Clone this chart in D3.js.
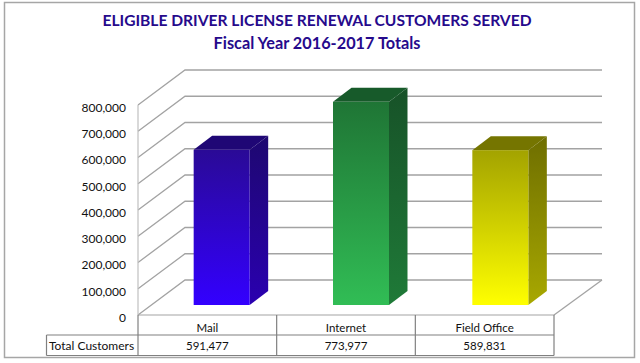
<!DOCTYPE html>
<html>
<head>
<meta charset="utf-8">
<script src="https://cdn.jsdelivr.net/npm/d3@7"></script>
<style>
  html, body { margin: 0; padding: 0; background: #fff; }
  svg { display: block; }
  text { font-family: Lato, "Open Sans", sans-serif; fill: #111; }
</style>
</head>
<body>
<div id="chart"></div>
<script>
// Eligible driver license renewals, 3D bar chart with data table
const titleLines = ['ELIGIBLE DRIVER LICENSE RENEWAL CUSTOMERS SERVED', 'Fiscal Year 2016-2017 Totals'];
const categories = ['Mail', 'Internet', 'Field Office'];
const customers = [591477, 773977, 589831];
const rowLabel = 'Total Customers';
const yTicks = [0, 100000, 200000, 300000, 400000, 500000, 600000, 700000, 800000];
// top, bottom and side colours of each bar
const barFronts = [['#2a0a96', '#3300ff'], ['#1f7535', '#31bd55'], ['#a3a300', '#ffff00']];
const barSides = [['#1e0870', '#2a00b0'], ['#175228', '#1f7a38'], ['#6e6e00', '#a8a800']];
const barTops = ['#1f0775', '#175a2a', '#757500'];

const width = 640, height = 363;
const gridColor = '#a3a3a3';
const frameColor = '#a6a6a6';
const tableColor = '#808080';

// plot box
const plot = { left: 138, right: 554, bottom: 315, top: 105, depthX: 47, depthY: 35 };
const barOffset = { x: 14, y: 10 };
const barDepth = { x: 18.5, y: 14 };
const rows = { header: 335, bottom: 355.5, labelLeft: 46.5 };

const svg = d3.select('#chart').append('svg')
    .attr('width', width)
    .attr('height', height);

const defs = svg.append('defs');
function addGradient(id, colors) {
    const g = defs.append('linearGradient')
        .attr('id', id)
        .attr('x1', 0).attr('x2', 0).attr('y1', 0).attr('y2', 1);
    g.append('stop').attr('offset', '0%').attr('stop-color', colors[0]);
    g.append('stop').attr('offset', '100%').attr('stop-color', colors[1]);
}
categories.forEach((c, i) => {
    addGradient(`front-${i}`, barFronts[i]);
    addGradient(`side-${i}`, barSides[i]);
});

// Outer frame
svg.append('rect')
    .attr('x', 4.5).attr('y', 2.5)
    .attr('width', 630).attr('height', 355)
    .attr('fill', '#fff')
    .attr('stroke', frameColor)
    .attr('stroke-width', 1.5);

// Title
svg.selectAll('text.title')
    .data(titleLines)
    .join('text')
    .attr('class', 'title')
    .attr('x', 317)
    .attr('y', (d, i) => 26 + i * 22.5)
    .attr('text-anchor', 'middle')
    .attr('font-size', (d, i) => i ? '16.3px' : '15.6px')
    .attr('font-weight', 700)
    .style('fill', '#260a8c')
    .text(d => d);

// Scales
const x = d3.scaleBand()
    .domain(categories)
    .range([plot.left, plot.right]);

// the bars sit on a slightly wider step than the table columns
const barX = d3.scaleBand()
    .domain(categories)
    .range([plot.left, plot.right + 2]);

const y = d3.scaleLinear()
    .domain([0, 800000])
    .range([plot.bottom, plot.top]);

// Walls: side wall diagonals plus back wall lines
yTicks.forEach(t => {
    svg.append('path')
        .attr('fill', 'none')
        .attr('stroke', gridColor)
        .attr('stroke-width', 1.3)
        .attr('d', d3.line()([
            [plot.left, y(t)],
            [plot.left + plot.depthX, y(t) - plot.depthY],
            [plot.right + plot.depthX + 1, y(t) - plot.depthY]
        ]));
});

// Floor right edge
svg.append('line')
    .attr('x1', plot.right)
    .attr('y1', plot.bottom)
    .attr('x2', plot.right + plot.depthX + 1)
    .attr('y2', plot.bottom - plot.depthY)
    .attr('stroke', gridColor)
    .attr('stroke-width', 1.3);

// Left edge
svg.append('line')
    .attr('x1', plot.left).attr('x2', plot.left)
    .attr('y1', plot.top).attr('y2', plot.bottom)
    .attr('stroke', '#c0c0c0')
    .attr('stroke-width', 1.2);

// Bars
const barWidth = 56;
categories.forEach((c, i) => {
    const x0 = barX(c) + (barX.bandwidth() - barWidth) / 2 + barOffset.x;
    const x1 = x0 + barWidth;
    const yBase = plot.bottom - barOffset.y;
    const yTop = y(customers[i]) - barOffset.y;
    const line = d3.line();

    svg.append('path')
        .attr('fill', `url(#side-${i})`)
        .attr('d', line([
            [x1, yTop], [x1 + barDepth.x, yTop - barDepth.y],
            [x1 + barDepth.x, yBase - barDepth.y], [x1, yBase]
        ]) + 'Z');

    svg.append('path')
        .attr('fill', barTops[i])
        .attr('d', line([
            [x0, yTop], [x0 + barDepth.x, yTop - barDepth.y],
            [x1 + barDepth.x, yTop - barDepth.y], [x1, yTop]
        ]) + 'Z');

    svg.append('rect')
        .attr('x', x0)
        .attr('y', yTop)
        .attr('width', barWidth)
        .attr('height', yBase - yTop)
        .attr('fill', `url(#front-${i})`);
});

// Y axis labels, they sit a little under their gridlines
const yAxis = svg.append('g')
    .attr('transform', `translate(${plot.left - 12},2.5)`)
    .call(d3.axisLeft(y).tickValues(yTicks).tickSize(0).tickPadding(0).tickFormat(d3.format(',')));
yAxis.select('.domain').remove();
yAxis.selectAll('text')
    .attr('font-family', 'Lato, "Open Sans", sans-serif')
    .attr('font-size', '12px')
    .style('fill', '#111');

// Data table lines
const table = svg.append('g')
    .attr('stroke', tableColor)
    .attr('stroke-width', 1.2);

table.append('line')
    .attr('x1', plot.left).attr('x2', plot.right)
    .attr('y1', plot.bottom).attr('y2', plot.bottom)
    .attr('stroke', gridColor);
[rows.header, rows.bottom].forEach(v => {
    table.append('line')
        .attr('x1', rows.labelLeft).attr('x2', plot.right)
        .attr('y1', v).attr('y2', v);
});
table.append('line')
    .attr('x1', rows.labelLeft).attr('x2', rows.labelLeft)
    .attr('y1', rows.header).attr('y2', rows.bottom);
[plot.left, ...categories.map(c => x(c) + x.bandwidth())].forEach(v => {
    table.append('line')
        .attr('x1', v).attr('x2', v)
        .attr('y1', plot.bottom).attr('y2', rows.bottom);
});

// Table text
svg.selectAll('text.cat')
    .data(categories)
    .join('text')
    .attr('class', 'cat')
    .attr('x', d => x(d) + x.bandwidth() / 2)
    .attr('y', 332)
    .attr('text-anchor', 'middle')
    .attr('font-size', '11.5px')
    .text(d => d);

svg.selectAll('text.val')
    .data(customers)
    .join('text')
    .attr('class', 'val')
    .attr('x', (d, i) => x(categories[i]) + x.bandwidth() / 2)
    .attr('y', 349.5)
    .attr('text-anchor', 'middle')
    .attr('font-size', '11.5px')
    .text(d => d3.format(',')(d));

svg.append('text')
    .attr('x', 49)
    .attr('y', 349.5)
    .attr('font-size', '12px')
    .text(rowLabel);
</script>
</body>
</html>
